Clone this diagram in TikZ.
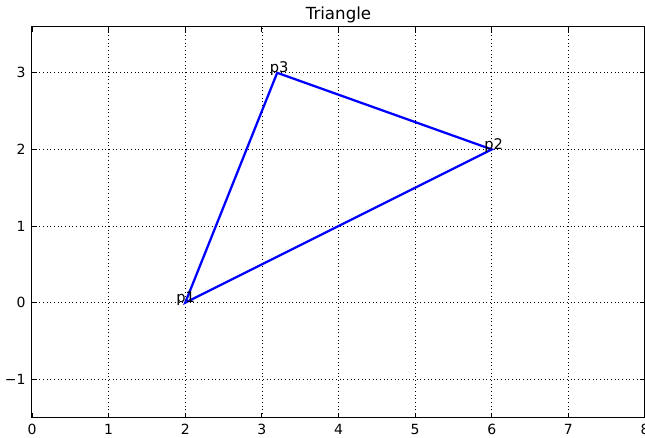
\documentclass[tikz,border=0pt]{standalone}
\usepackage{fontspec}
\setmainfont{DejaVu Sans}
\begin{document}
\begin{tikzpicture}[x=57.5pt,y=57.5pt,
  gridline/.style={black,line width=0.5pt,dash pattern=on 0.75pt off 2pt},
  spine/.style={black,line width=0.8pt},
  tick/.style={black,line width=0.6pt},
  ticklabel/.style={font=\fontsize{10.5}{12}\selectfont,inner sep=0pt},
  ptlabel/.style={font=\fontsize{11}{13}\selectfont,inner sep=0pt,anchor=base west},
  tri/.style={blue,line width=1.7pt,line join=miter}]
\useasboundingbox (-0.417,-1.76) rectangle (8,3.95);
% grid
\foreach \x in {1,...,7} \draw[gridline] (\x,-1.5) -- (\x,3.6);
\foreach \y in {-1,...,3} \draw[gridline] (0,\y) -- (8,\y);
% ticks
\foreach \x in {0,...,8} {
  \draw[tick] (\x,-1.5) -- ++(0,0.065);
  \draw[tick] (\x,3.6) -- ++(0,-0.065);
  \node[ticklabel,anchor=north] (xl\x) at (\x,-1.58) {\x};
}
\foreach \y/\l in {-1/−1,0/0,1/1,2/2,3/3} {
  \draw[tick] (0,\y) -- ++(0.065,0);
  \draw[tick] (8,\y) -- ++(-0.065,0);
  \node[ticklabel,anchor=east] (yl\l) at (-0.08,\y) {\l};
}
% spines
\draw[spine] (0,-1.5) rectangle (8,3.6);
% title
\node[font=\fontsize{12.5}{14}\selectfont,inner sep=0pt,anchor=base] (title) at (4,3.69) {Triangle};
% triangle
\coordinate (p1) at (2,0);
\coordinate (p2) at (6,2);
\coordinate (p3) at (3.2,3);
\draw[tri] (p1) -- (p2) -- (p3) -- cycle;
\node[ptlabel] (l1) at (1.88,0) {p1};
\node[ptlabel] (l2) at (5.9,2) {p2};
\node[ptlabel] (l3) at (3.1,3) {p3};
\end{tikzpicture}
\end{document}
